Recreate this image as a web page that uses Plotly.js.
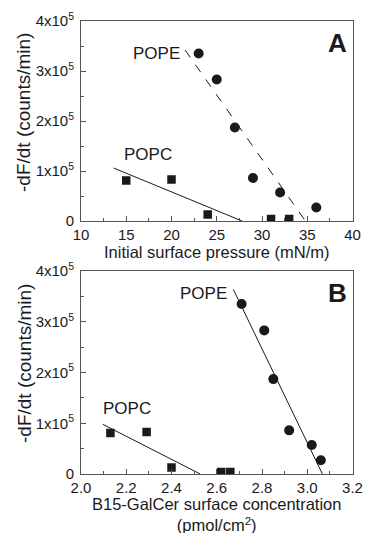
<!DOCTYPE html>
<html>
<head>
<meta charset="utf-8">
<script src="https://cdn.plot.ly/plotly-3.0.1.min.js"></script>
<style>html,body{margin:0;padding:0;background:#fff;}#chart{width:366px;height:533px;}</style>
</head>
<body>
<div id="chart"></div>
<script>
// Panel A: initial surface pressure (mN/m)
const popeA_x = [23, 25, 27, 29, 32, 36];
const popeA_y = [335000, 283000, 187000, 86000, 57000, 27000];
const popcA_x = [15, 20, 24, 31, 33];
const popcA_y = [81000, 83000, 13000, 4000, 4000];
const popeA_fit_x = [21.5, 34.8];
const popeA_fit_y = [342000, 0];
const popcA_fit_x = [13.6, 27.8];
const popcA_fit_y = [106000, 0];

// Panel B: B15-GalCer surface concentration (pmol/cm2)
const popeB_x = [2.71, 2.81, 2.85, 2.92, 3.02, 3.06];
const popeB_y = [335000, 283000, 187000, 86000, 57000, 27000];
const popcB_x = [2.13, 2.29, 2.40, 2.62, 2.66];
const popcB_y = [81000, 83000, 13000, 4000, 4000];
const popeB_fit_x = [2.673, 3.067];
const popeB_fit_y = [364000, 0];
const popcB_fit_x = [2.096, 2.527];
const popcB_fit_y = [98000, 0];

// Tick labels
const yTickVals = [0, 100000, 200000, 300000, 400000];
const yTickText = ['0', '1x10<sup>5</sup>', '2x10<sup>5</sup>', '3x10<sup>5</sup>', '4x10<sup>5</sup>'];
const xTickValsA = [10, 15, 20, 25, 30, 35, 40];
const xTickValsB = [2.0, 2.2, 2.4, 2.6, 2.8, 3.0, 3.2];
const xTickTextB = ['2.0', '2.2', '2.4', '2.6', '2.8', '3.0', '3.2'];

const ink = '#1a1a1a';
const fam = 'Liberation Sans, Arial, sans-serif';
const tickFont = {family: fam, size: 15, color: ink};
const titleFont = {family: fam, size: 16.5, color: ink};
const yTitleFont = {family: fam, size: 19, color: ink};
const labelFont = {family: fam, size: 17, color: ink};
const panelFont = {family: fam, size: 26, color: ink};

function scatter(x, y, sym, size, xa, ya) {
  return {x: x, y: y, type: 'scatter', mode: 'markers', xaxis: xa, yaxis: ya,
    marker: {symbol: sym, size: size, color: ink}, showlegend: false, hoverinfo: 'skip'};
}
function fit(x, y, dash, xa, ya) {
  return {x: x, y: y, type: 'scatter', mode: 'lines', xaxis: xa, yaxis: ya,
    line: {color: ink, width: 1, dash: dash}, showlegend: false, hoverinfo: 'skip'};
}

const traces = [
  fit(popeA_fit_x, popeA_fit_y, 'dash', 'x', 'y'),
  fit(popcA_fit_x, popcA_fit_y, 'solid', 'x', 'y'),
  scatter(popeA_x, popeA_y, 'circle', 10, 'x', 'y'),
  scatter(popcA_x, popcA_y, 'square', 8.5, 'x', 'y'),
  fit(popeB_fit_x, popeB_fit_y, 'solid', 'x2', 'y2'),
  fit(popcB_fit_x, popcB_fit_y, 'solid', 'x2', 'y2'),
  scatter(popeB_x, popeB_y, 'circle', 10, 'x2', 'y2'),
  scatter(popcB_x, popcB_y, 'square', 8.5, 'x2', 'y2')
];

const axisCommon = {
  showline: true, linecolor: '#555', linewidth: 1, mirror: true,
  ticks: 'inside', ticklen: 5, tickcolor: '#555', tickwidth: 1,
  showgrid: false, zeroline: false, tickfont: tickFont, fixedrange: true
};

const xDom = [81 / 366, 352.5 / 366];
const xMid = (xDom[0] + xDom[1]) / 2;

const layout = {
  width: 366, height: 533,
  margin: {l: 0, r: 0, t: 0, b: 0},
  paper_bgcolor: '#fff', plot_bgcolor: '#fff',
  font: tickFont,
  xaxis: Object.assign({}, axisCommon, {
    domain: xDom, anchor: 'y', range: [10, 40], tickvals: xTickValsA,
    minor: {ticks: 'inside', ticklen: 3, dtick: 2.5, tick0: 10, tickcolor: '#555', showgrid: false}
  }),
  yaxis: Object.assign({}, axisCommon, {
    domain: [1 - 221 / 533, 1 - 21 / 533], anchor: 'x', range: [0, 400000],
    tickvals: yTickVals, ticktext: yTickText, ticklabelstandoff: 3,
    minor: {ticks: 'inside', ticklen: 3, dtick: 50000, tick0: 0, tickcolor: '#555', showgrid: false}
  }),
  xaxis2: Object.assign({}, axisCommon, {
    domain: xDom, anchor: 'y2', range: [2.0, 3.2], tickvals: xTickValsB, ticktext: xTickTextB,
    minor: {ticks: 'inside', ticklen: 3, dtick: 0.1, tick0: 2.0, tickcolor: '#555', showgrid: false}
  }),
  yaxis2: Object.assign({}, axisCommon, {
    domain: [1 - 474 / 533, 1 - 271 / 533], anchor: 'x2', range: [0, 400000],
    tickvals: yTickVals, ticktext: yTickText, ticklabelstandoff: 3,
    minor: {ticks: 'inside', ticklen: 3, dtick: 50000, tick0: 0, tickcolor: '#555', showgrid: false}
  }),
  annotations: [
    // axis titles
    {xref: 'paper', yref: 'paper', x: xMid, y: 1 - 252 / 533, yanchor: 'middle', text: 'Initial surface pressure (mN/m)', showarrow: false, font: titleFont},
    {xref: 'paper', yref: 'paper', x: xMid, y: 1 - 514 / 533, yanchor: 'middle', text: 'B15-GalCer surface concentration<br>(pmol/cm<sup>2</sup>)', showarrow: false, font: titleFont},
    {xref: 'paper', yref: 'paper', x: 24 / 366, y: 1 - 113 / 533, xanchor: 'center', yanchor: 'middle', textangle: -90, text: '-dF/dt (counts/min)', showarrow: false, font: yTitleFont},
    {xref: 'paper', yref: 'paper', x: 24 / 366, y: 1 - 364 / 533, xanchor: 'center', yanchor: 'middle', textangle: -90, text: '-dF/dt (counts/min)', showarrow: false, font: yTitleFont},
    // series labels and panel letters
    {xref: 'x', yref: 'y', x: 21.2, y: 336000, text: 'POPE', showarrow: false, xanchor: 'right', font: labelFont},
    {xref: 'x', yref: 'y', x: 17.4, y: 133000, text: 'POPC', showarrow: false, xanchor: 'center', font: labelFont},
    {xref: 'x', yref: 'y', x: 39.6, y: 357000, text: '<b>A</b>', showarrow: false, xanchor: 'right', font: panelFont},
    {xref: 'x2', yref: 'y2', x: 2.655, y: 355000, text: 'POPE', showarrow: false, xanchor: 'right', font: labelFont},
    {xref: 'x2', yref: 'y2', x: 2.205, y: 130000, text: 'POPC', showarrow: false, xanchor: 'center', font: labelFont},
    {xref: 'x2', yref: 'y2', x: 3.185, y: 357000, text: '<b>B</b>', showarrow: false, xanchor: 'right', font: panelFont}
  ]
};

Plotly.newPlot('chart', traces, layout, {displayModeBar: false, staticPlot: true});
</script>
</body>
</html>
